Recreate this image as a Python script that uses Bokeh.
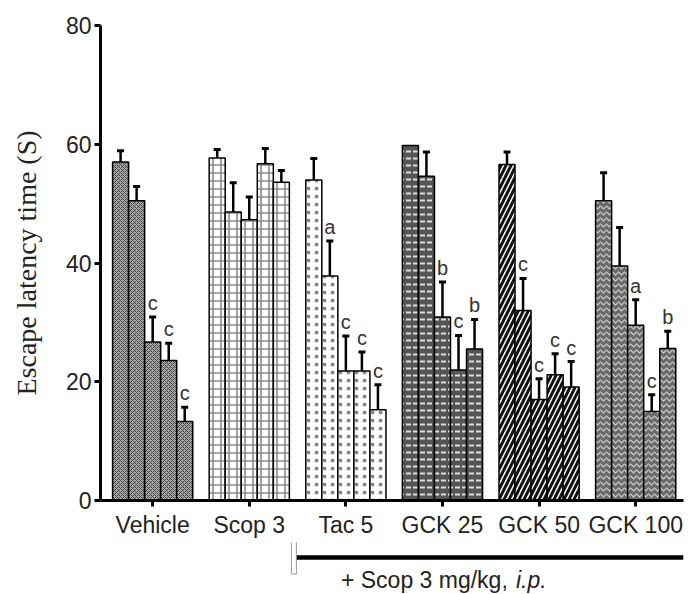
from bokeh.plotting import figure
from bokeh.models import ColumnDataSource, FixedTicker, Range1d
from bokeh.layouts import column
from bokeh.core.properties import value
from bokeh.embed import file_html
from bokeh.resources import INLINE

# ---------------- data ----------------
groups = ["Vehicle", "Scop 3", "Tac 5", "GCK 25", "GCK 50", "GCK 100"]
vehicle_mean = [57.0, 50.5, 26.7, 23.6, 13.3]
scop3_mean = [57.7, 48.6, 47.3, 56.7, 53.6]
tac5_mean = [54.0, 37.8, 21.8, 21.8, 15.3]
gck25_mean = [59.8, 54.6, 30.9, 22.0, 25.5]
gck50_mean = [56.6, 32.0, 17.0, 21.2, 19.1]
gck100_mean = [50.5, 39.5, 29.5, 15.0, 25.6]

vehicle_sem = [1.9, 2.4, 4.2, 2.9, 2.4]
scop3_sem = [1.4, 4.9, 3.8, 2.6, 2.0]
tac5_sem = [3.6, 5.9, 5.9, 3.2, 4.2]
gck25_sem = [0.0, 4.1, 5.9, 5.8, 5.0]
gck50_sem = [2.1, 5.4, 3.5, 3.5, 4.3]
gck100_sem = [4.7, 6.5, 4.3, 2.8, 2.9]

vehicle_sig = ["", "", "c", "c", "c"]
scop3_sig = ["", "", "", "", ""]
tac5_sig = ["", "a", "c", "c", "c"]
gck25_sig = ["", "", "b", "c", "b"]
gck50_sig = ["", "c", "c", "c", "c"]
gck100_sig = ["", "", "a", "c", "b"]

y_ticks = [0, 20, 40, 60, 80]
bracket_label = "+ Scop 3 mg/kg,"
bracket_label_italic = "i.p."

means = [vehicle_mean, scop3_mean, tac5_mean, gck25_mean, gck50_mean, gck100_mean]
sems = [vehicle_sem, scop3_sem, tac5_sem, gck25_sem, gck50_sem, gck100_sem]
sigs = [vehicle_sig, scop3_sig, tac5_sig, gck25_sig, gck50_sig, gck100_sig]

styles = [
    dict(fill_color="#a8a8a8", hatch_pattern="diagonal_cross", hatch_color="#444444", hatch_scale=4, hatch_weight=1),
    dict(fill_color="white", hatch_pattern="cross", hatch_color="#8a8a8a", hatch_scale=8, hatch_weight=1.6),
    dict(fill_color="white", hatch_pattern="dot", hatch_color="#8a8a8a", hatch_scale=8, hatch_weight=1.2),
    dict(fill_color="#555555", hatch_pattern="horizontal_dash", hatch_color="#dddddd", hatch_scale=7, hatch_weight=2),
    dict(fill_color="white", hatch_pattern="right_diagonal_line", hatch_color="#111111", hatch_scale=10, hatch_weight=3),
    dict(fill_color="#6a6a6a", hatch_pattern="horizontal_wave", hatch_color="#cfcfcf", hatch_scale=6, hatch_weight=1.2),
]

bar_w = 0.166
x_lo, x_hi = -0.54, 5.495

W = 694
LEFT, RIGHT, TOP, BOTTOM = 100, 11, 25, 42
H1 = 542
H2 = 51

p = figure(width=W, height=H1, x_range=Range1d(x_lo, x_hi), y_range=Range1d(0, 80),
           output_backend="svg", toolbar_location=None,
           min_border_left=LEFT, min_border_right=RIGHT, min_border_top=TOP, min_border_bottom=BOTTOM)
p.outline_line_color = None
p.grid.visible = False
p.background_fill_color = "white"

for gi, (m, s, sg, st) in enumerate(zip(means, sems, sigs, styles)):
    xs = [gi + (j - 2) * bar_w for j in range(len(m))]
    src = ColumnDataSource(dict(x=xs, top=m))
    p.vbar(x="x", top="top", width=bar_w, bottom=0, source=src,
           line_color="black", line_width=1.5, **st)
    ex = [x for x, e in zip(xs, s) if e > 0]
    eb = [t for t, e in zip(m, s) if e > 0]
    et = [t + e for t, e in zip(m, s) if e > 0]
    esrc = ColumnDataSource(dict(x=ex, y0=eb, y1=et))
    p.segment(x0="x", y0="y0", x1="x", y1="y1", source=esrc, line_color="black", line_width=2.5)
    p.scatter(x="x", y="y1", source=esrc, marker="dash", size=7, line_width=3, line_color="black")
    tx = [x for x, l in zip(xs, sg) if l]
    ty = [t + e for t, e, l in zip(m, s, sg) if l]
    tl = [l for l in sg if l]
    if tl:
        p.text(x=tx, y=ty, text=tl, text_align="center", text_baseline="bottom", y_offset=-3,
               text_font=value("Liberation Sans"), text_font_size="20px", text_color="#333333")

# axes
p.xaxis.ticker = FixedTicker(ticks=list(range(len(groups))))
p.xaxis.major_label_overrides = {i: g for i, g in enumerate(groups)}
p.yaxis.ticker = FixedTicker(ticks=y_ticks)
p.xaxis.minor_tick_line_color = None
p.yaxis.minor_tick_line_color = None
for ax in (p.xaxis, p.yaxis):
    ax.axis_line_width = 3
    ax.axis_line_color = "black"
    ax.major_tick_line_width = 3
    ax.major_tick_line_color = "black"
    ax.major_tick_out = 6
    ax.major_tick_in = 0
    ax.major_label_text_font = "Liberation Sans"
    ax.major_label_text_font_size = "23px"
    ax.major_label_text_color = "#222222"
p.xaxis.major_label_standoff = 5
p.yaxis.major_label_standoff = 3
p.yaxis.axis_label = "Escape latency time (S)"
p.yaxis.axis_label_text_font = "Liberation Serif"
p.yaxis.axis_label_text_font_style = "normal"
p.yaxis.axis_label_text_font_size = "28px"
p.yaxis.axis_label_text_color = "#222222"
p.yaxis.axis_label_standoff = 21

# bottom bracket panel (frame runs to the right page edge)
scale = (W - LEFT - RIGHT) / (x_hi - x_lo)
x_hi2 = x_lo + (W - LEFT) / scale
p2 = figure(width=W, height=H2, x_range=Range1d(x_lo, x_hi2), y_range=Range1d(0, H2),
            output_backend="svg", toolbar_location=None,
            x_axis_location=None, y_axis_location=None,
            min_border_left=LEFT, min_border_right=0, min_border_top=0, min_border_bottom=0)
p2.outline_line_color = None
p2.grid.visible = False

bx0 = 1.5  # between "Scop 3" and "Tac 5"
p2.segment(x0=[bx0], y0=[H2 - 15], x1=[x_hi2], y1=[H2 - 15], line_color="black", line_width=4.5)
p2.rect(x=[bx0], y=[H2 - 15], width=5, width_units="screen", height=33, height_units="screen",
        fill_color="white", line_color="#9a9a9a", line_width=1)
p2.text(x=[1.996], y=[14], text=[bracket_label], text_align="left", text_baseline="middle",
        text_font=value("Liberation Sans"), text_font_size="23px", text_color="#222222")
p2.text(x=[1.996], y=[14], text=[bracket_label_italic], text_align="left", text_baseline="middle",
        x_offset=175, text_font=value("Liberation Sans"), text_font_style="italic",
        text_font_size="23px", text_color="#222222")

layout = column(p, p2, spacing=0)
open("out.html", "w").write(file_html(layout, INLINE))
